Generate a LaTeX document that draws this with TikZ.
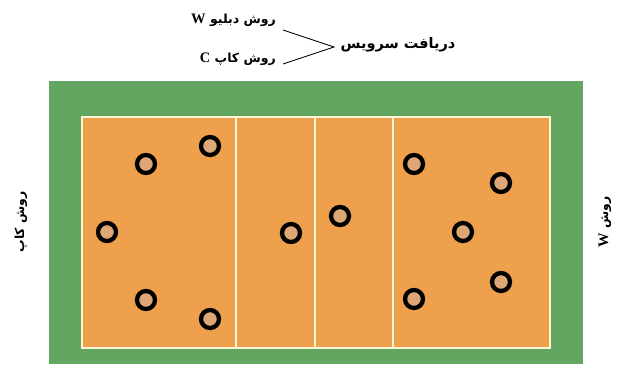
\documentclass[tikz,border=0pt]{standalone}
\usepackage{fontspec}
\TeXXeTstate=1
\newfontfamily\arabicfont[Script=Arabic]{DejaVu Sans}
\setmainfont{Liberation Serif}
\newcommand{\lat}[1]{\beginL{\rmfamily\bfseries\fontsize{14.5}{16}\selectfont #1}\endL}
\definecolor{fieldgreen}{RGB}{98,166,98}
\definecolor{courtorange}{RGB}{238,160,76}
\definecolor{lineclr}{RGB}{255,246,210}
\definecolor{ringfill}{RGB}{222,168,118}
\begin{document}
\begin{tikzpicture}[x=1pt,y=-1pt,
  player/.style={circle,draw=black,line width=4.3pt,fill=ringfill,minimum size=18pt,inner sep=0pt},
  courtline/.style={draw=lineclr,line width=2.6pt},
  label/.style={font=\arabicfont\bfseries\fontsize{12.5}{14}\selectfont,inner sep=0pt},
  biglabel/.style={font=\arabicfont\bfseries\fontsize{14.5}{16}\selectfont,inner sep=0pt},
  conn/.style={draw=black,line width=0.9pt}]
\useasboundingbox (0,0) rectangle (620,369);
% field
\fill[fieldgreen] (49,81) rectangle (583,364);
\fill[courtorange] (82,117) rectangle (550,348);
\draw[courtline] (82,117) rectangle (550,348);
\draw[courtline] (236,117) -- (236,348);
\draw[courtline] (315,117) -- (315,348);
\draw[courtline] (393,117) -- (393,348);
% players
\node[player] (p1) at (146,164) {};
\node[player] (p2) at (210,146) {};
\node[player] (p3) at (107,232) {};
\node[player] (p4) at (146,300) {};
\node[player] (p5) at (210,319) {};
\node[player] (p6) at (291,233) {};
\node[player] (p7) at (340,216) {};
\node[player] (p8) at (414,164) {};
\node[player] (p9) at (501,183) {};
\node[player] (p10) at (463,232) {};
\node[player] (p11) at (501,282) {};
\node[player] (p12) at (414,299) {};
% labels
\node[label,anchor=east] (tw) at (276,20) {\beginR روش دبلیو \lat{W}\endR};
\node[label,anchor=east] (tc) at (276,59) {\beginR روش کاپ \lat{C}\endR};
\node[biglabel] (srv) at (398,45) {\beginR دریافت سرویس\endR};
\node[label,rotate=90] (lc) at (21,222) {\beginR روش کاپ\endR};
\node[label,rotate=90] (rw) at (605,222) {\beginR روش \lat{W}\endR};
% connectors
\coordinate (a1) at (283,30);
\coordinate (a2) at (283,64);
\coordinate (apex) at (334,47);
\draw[conn] (a1) -- (apex) -- (a2);
\end{tikzpicture}
\end{document}
